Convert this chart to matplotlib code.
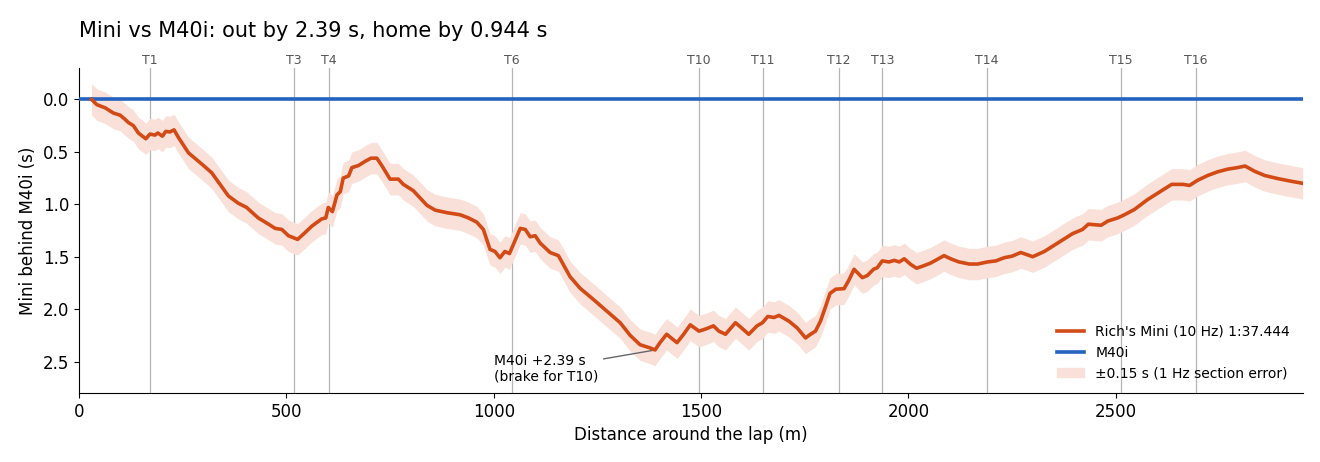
import matplotlib
matplotlib.use("Agg")
import matplotlib.pyplot as plt
from matplotlib.patches import Patch

# Distance around the lap (m) and Mini's deficit to the M40i (s)
dist = [30, 43, 63, 83, 99, 111, 119, 131, 143, 161, 171, 183, 190, 201, 209, 219, 229, 240,
        264, 288, 300, 320, 340, 360, 384, 404, 432, 453, 473, 489, 505, 527, 545, 561, 585,
        595, 601, 611, 622, 630, 637, 650, 658, 674, 690, 704, 718, 730, 750, 770, 782, 806,
        839, 859, 887, 919, 939, 959, 975, 991, 1003, 1015, 1027, 1038, 1052, 1064, 1076,
        1088, 1100, 1112, 1136, 1156, 1184, 1208, 1241, 1273, 1305, 1329, 1353, 1377, 1389,
        1401, 1417, 1442, 1458, 1474, 1495, 1511, 1530, 1543, 1559, 1583, 1595, 1615, 1635,
        1648, 1661, 1676, 1688, 1712, 1732, 1752, 1764, 1776, 1788, 1800, 1811, 1825, 1845,
        1857, 1869, 1889, 1901, 1916, 1925, 1937, 1953, 1966, 1978, 1990, 2006, 2020, 2038,
        2054, 2070, 2086, 2102, 2122, 2147, 2167, 2191, 2211, 2231, 2250, 2271, 2300, 2328,
        2352, 2376, 2388, 2396, 2420, 2434, 2465, 2481, 2505, 2521, 2545, 2577, 2609, 2635,
        2662, 2678, 2698, 2722, 2746, 2770, 2794, 2812, 2835, 2859, 2891, 2923, 2951]
delta = [0.00, 0.05, 0.08, 0.13, 0.15, 0.19, 0.22, 0.25, 0.32, 0.375, 0.33, 0.34, 0.32, 0.35,
         0.305, 0.31, 0.29, 0.365, 0.51, 0.59, 0.63, 0.70, 0.81, 0.92, 0.99, 1.03, 1.13, 1.18,
         1.23, 1.24, 1.30, 1.335, 1.27, 1.21, 1.14, 1.13, 1.03, 1.07, 0.91, 0.88, 0.75, 0.73,
         0.65, 0.63, 0.59, 0.56, 0.56, 0.63, 0.76, 0.76, 0.81, 0.87, 1.01, 1.056, 1.08, 1.10,
         1.13, 1.17, 1.24, 1.43, 1.45, 1.51, 1.45, 1.47, 1.34, 1.23, 1.24, 1.31, 1.30, 1.37,
         1.46, 1.49, 1.69, 1.80, 1.91, 2.02, 2.13, 2.25, 2.34, 2.37, 2.39, 2.32, 2.24, 2.32,
         2.24, 2.15, 2.21, 2.19, 2.16, 2.21, 2.24, 2.13, 2.17, 2.24, 2.16, 2.13, 2.07, 2.08,
         2.06, 2.115, 2.18, 2.275, 2.24, 2.21, 2.115, 1.98, 1.85, 1.81, 1.805, 1.72, 1.62,
         1.70, 1.68, 1.62, 1.605, 1.54, 1.55, 1.535, 1.55, 1.52, 1.575, 1.61, 1.585, 1.56,
         1.525, 1.49, 1.52, 1.55, 1.57, 1.57, 1.55, 1.54, 1.51, 1.495, 1.46, 1.50, 1.45, 1.39,
         1.33, 1.30, 1.28, 1.24, 1.19, 1.20, 1.16, 1.13, 1.10, 1.05, 0.955, 0.875, 0.81, 0.81,
         0.82, 0.77, 0.725, 0.69, 0.665, 0.65, 0.635, 0.685, 0.725, 0.755, 0.78, 0.80]
err = 0.15

# Reference car is the zero line
ref_dist = [0, 2951]
ref_delta = [0.0, 0.0]

# Turn markers
turn_names = ["T1", "T3", "T4", "T6", "T10", "T11", "T12", "T13", "T14", "T15", "T16"]
turn_dist = [171, 519, 603, 1044, 1495, 1650, 1833, 1937, 2190, 2513, 2694]

mini_col = "#d24a16"
band_col = "#f9e1d9"
ref_col = "#2462c0"

fig = plt.figure(figsize=(13.2, 4.62), dpi=100)
ax = fig.add_axes([0.0599, 0.1494, 0.927, 0.7034])

for td in turn_dist:
    ax.axvline(td, color="#b5b5b5", lw=0.9, zorder=1)

lo = [d - err for d in delta]
hi = [d + err for d in delta]
ax.fill_between(dist, lo, hi, color=band_col, lw=0, zorder=2)
ax.plot(dist, delta, color=mini_col, lw=2.6, zorder=4)
ax.plot(ref_dist, ref_delta, color=ref_col, lw=2.6, zorder=3)

ax.set_xlim(0, 2951)
ax.set_ylim(2.8, -0.3)
ax.set_yticks([0.0, 0.5, 1.0, 1.5, 2.0, 2.5])
ax.set_xticks([0, 500, 1000, 1500, 2000, 2500])
ax.tick_params(labelsize=12)
ax.spines["top"].set_visible(False)
ax.spines["right"].set_visible(False)
ax.set_xlabel("Distance around the lap (m)", fontsize=12)
ax.set_ylabel("Mini behind M40i (s)", fontsize=12)

sec = ax.secondary_xaxis("top")
sec.set_xticks(turn_dist)
sec.set_xticklabels(turn_names)
sec.tick_params(length=0, pad=1, labelsize=9, labelcolor="#555555")
sec.spines["top"].set_visible(False)

ax.set_title("Mini vs M40i: out by 2.39 s, home by 0.944 s", loc="left", fontsize=15, pad=12)

ax.annotate("M40i +2.39 s\n(brake for T10)", xy=(1389, 2.39), xytext=(1000, 2.57),
            ha="left", va="center", fontsize=10,
            arrowprops=dict(arrowstyle="-", color="#666666", lw=1))

handles = [plt.Line2D([], [], color=mini_col, lw=2.6),
           plt.Line2D([], [], color=ref_col, lw=2.6),
           Patch(color=band_col)]
labels = ["Rich's Mini (10 Hz) 1:37.444", "M40i", "\u00b10.15 s (1 Hz section error)"]
ax.legend(handles, labels, loc="lower right", frameon=False, fontsize=10)

fig.savefig("out.png", dpi=100)
